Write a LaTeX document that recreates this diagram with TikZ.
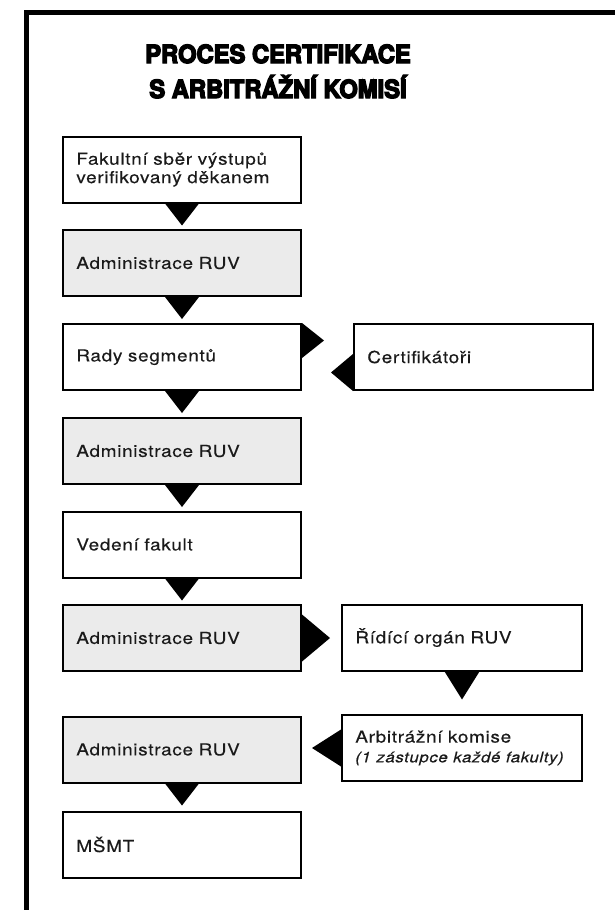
\documentclass[tikz,border=0pt]{standalone}
\usepackage{fontspec}
\setmainfont{TeX Gyre Heros}[FakeStretch=1.15, LetterSpace=4, FakeBold=0.25]
\newfontfamily\titlefont{texgyreheros-bold}[Extension=.otf, FakeStretch=0.95, FakeBold=5.5]
\usetikzlibrary{calc}
\definecolor{boxgray}{HTML}{EBEBEB}
\definecolor{ink}{HTML}{1A1A1A}
\tikzset{
  box/.style={draw=black, line width=1.5pt, fill=white, minimum width=178.5pt,
    minimum height=49.5pt, text width=158.5pt, inner xsep=10pt, inner ysep=4pt,
    align=left, text=ink, font=\fontsize{12.4pt}{13.8pt}\selectfont},
  greybox/.style={box, fill=boxgray},
  titletext/.style={font=\titlefont\fontsize{18.75pt}{22pt}\selectfont, anchor=base, inner sep=0pt},
  tri/.style={fill=black},
  frame/.style={line width=3.75pt, line join=miter}
}
\begin{document}
\begin{tikzpicture}[x=0.75pt, y=-0.75pt]
\useasboundingbox (0,0) rectangle (615,910);
\fill[white] (0,0) rectangle (615,910);
% frame
\coordinate (fbl) at (26,910);
\coordinate (ftl) at (26,12);
\coordinate (ftr) at (615,12);
\draw[frame] (fbl) -- (ftl) -- (ftr);
% title
\node[titletext] (t1) at (278,63) {PROCES CERTIFIKACE};
\node[titletext] (t2) at (278,98) {S ARBITRÁŽNÍ KOMISÍ};
% left column
\node[box]     (b1) at (182,169.5) {Fakultní sběr výstupů\\verifikovaný děkanem};
\node[greybox] (b2) at (182,263) {Administrace RUV};
\node[box]     (b3) at (182,357) {Rady segmentů};
\node[greybox] (b4) at (182,451) {Administrace RUV};
\node[box]     (b5) at (182,544.5) {Vedení fakult};
\node[greybox] (b6) at (182,638) {Administrace RUV};
\node[greybox] (b7) at (182,749.5) {Administrace RUV};
\node[box]     (b8) at (182,844.5) {MŠMT};
% right column
\node[box, minimum width=179.25pt, text width=159.25pt] (cert) at (473.5,357) {Certifikátoři};
\node[box, minimum width=180pt, text width=160pt] (rid) at (462,637.5) {Řídící orgán RUV};
\node[box, minimum width=180pt, text width=160pt] (arb) at (462,748) {Arbitrážní komise\\[1pt]{\fontsize{11pt}{13pt}\selectfont\itshape (1 zástupce každé fakulty)}};
% vertical connectors (down triangles)
\foreach \n in {b1,b2,b3,b4,b5,b7}{
  \fill[tri] ($(\n.south)+(-17,0)$) -- ($(\n.south)+(17,0)$) -- ($(\n.south)+(0,22)$) -- cycle;
}
\fill[tri] ($(rid.south)+(-17.5,0)$) -- ($(rid.south)+(17.5,0)$) -- ($(rid.south)+(0,28)$) -- cycle;
% Rady segmentů -> Certifikátoři
\fill[tri] (b3.north east) -- ($(b3.north east)+(0,35)$) -- ($(b3.north east)+(22,17.5)$) -- cycle;
% Certifikátoři -> Rady segmentů
\fill[tri] (cert.south west) -- ($(cert.south west)+(0,-37)$) -- ($(cert.south west)+(-22,-18.5)$) -- cycle;
% Administrace RUV -> Řídící orgán
\fill[tri] ($(b6.east)+(0,-23.5)$) -- ($(b6.east)+(0,23.5)$) -- ($(b6.east)+(28,0)$) -- cycle;
% Arbitrážní komise -> Administrace RUV
\fill[tri] ($(arb.west)+(0,-18.5)$) -- ($(arb.west)+(0,18.5)$) -- ($(arb.west)+(-29,0)$) -- cycle;
\end{tikzpicture}
\end{document}
